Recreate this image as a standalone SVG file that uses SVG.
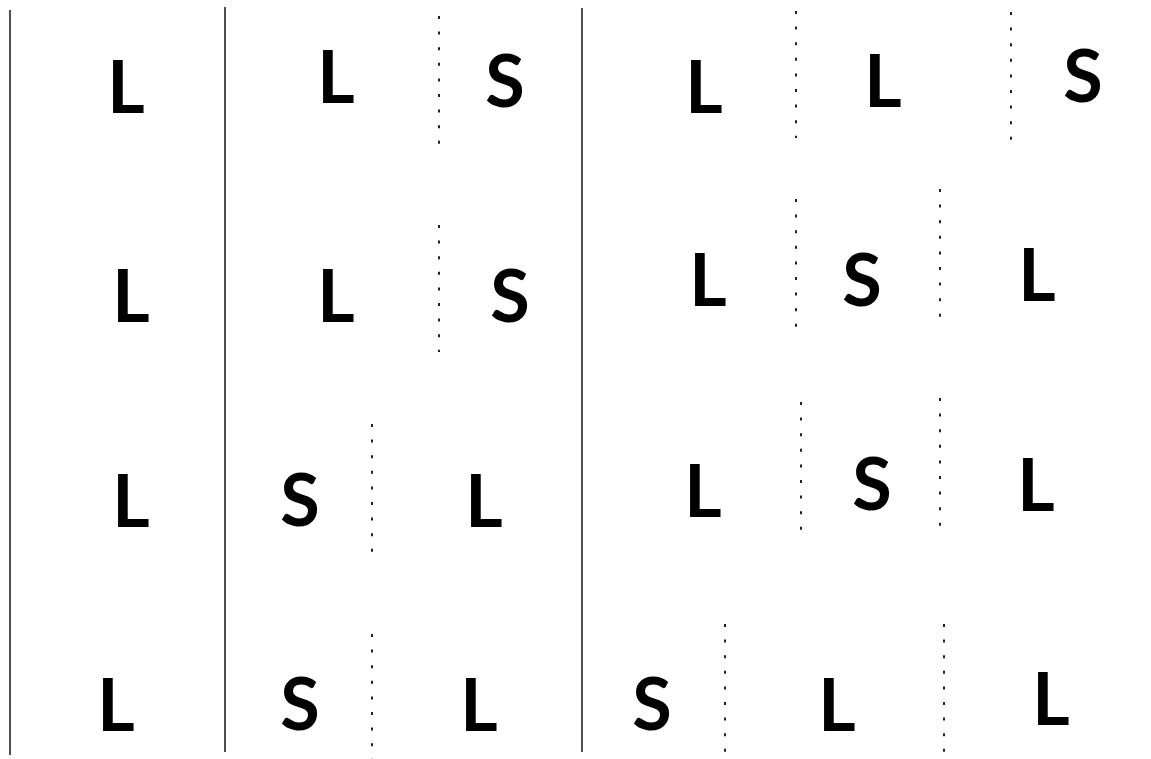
<svg xmlns="http://www.w3.org/2000/svg" width="1151" height="759" viewBox="0 0 1151 759">
<style>
.bg{fill:#ffffff}
.solid{stroke:#222222;stroke-width:1.6;fill:none}
.dot{stroke:#222222;stroke-width:2;stroke-dasharray:3 12.6;fill:none}
.lt{font-family:Lato,"Liberation Sans",sans-serif;font-weight:bold;font-size:72px;fill:#000000;text-anchor:middle}
</style>
<rect class="bg" x="0" y="0" width="1151" height="759"/>
<g id="connectors">
<line class="solid" x1="10" y1="10" x2="10" y2="755"/>
<line class="solid" x1="225" y1="7" x2="225" y2="752"/>
<line class="solid" x1="582" y1="8" x2="582" y2="752"/>
<line class="dot" x1="439" y1="16" x2="439" y2="144"/>
<line class="dot" x1="439" y1="225" x2="439" y2="352"/>
<line class="dot" x1="372" y1="424" x2="372" y2="553"/>
<line class="dot" x1="372" y1="634" x2="372" y2="759"/>
<line class="dot" x1="796" y1="11" x2="796" y2="138"/>
<line class="dot" x1="1011" y1="12" x2="1011" y2="141"/>
<line class="dot" x1="796" y1="199" x2="796" y2="327"/>
<line class="dot" x1="940" y1="189" x2="940" y2="317"/>
<line class="dot" x1="801" y1="402" x2="801" y2="532"/>
<line class="dot" x1="940" y1="398" x2="940" y2="528"/>
<line class="dot" x1="725" y1="624" x2="725" y2="752"/>
<line class="dot" x1="944" y1="624" x2="944" y2="752"/>
</g>
<g id="n1"><text class="lt" x="126" y="113">L</text></g>
<g id="n2"><text class="lt" x="336" y="103">L</text></g>
<g id="n3"><text class="lt" x="505" y="107">S</text></g>
<g id="n4"><text class="lt" x="131" y="322">L</text></g>
<g id="n5"><text class="lt" x="336" y="322">L</text></g>
<g id="n6"><text class="lt" x="510" y="322">S</text></g>
<g id="n7"><text class="lt" x="704" y="113">L</text></g>
<g id="n8"><text class="lt" x="883" y="107">L</text></g>
<g id="n9"><text class="lt" x="1083" y="102">S</text></g>
<g id="n10"><text class="lt" x="708" y="306">L</text></g>
<g id="n11"><text class="lt" x="862" y="306">S</text></g>
<g id="n12"><text class="lt" x="1037" y="301">L</text></g>
<g id="n13"><text class="lt" x="131" y="527">L</text></g>
<g id="n14"><text class="lt" x="300" y="526">S</text></g>
<g id="n15"><text class="lt" x="484" y="527">L</text></g>
<g id="n16"><text class="lt" x="116" y="731">L</text></g>
<g id="n17"><text class="lt" x="300" y="730">S</text></g>
<g id="n18"><text class="lt" x="479" y="731">L</text></g>
<g id="n19"><text class="lt" x="703" y="517">L</text></g>
<g id="n20"><text class="lt" x="872" y="510">S</text></g>
<g id="n21"><text class="lt" x="1036" y="511">L</text></g>
<g id="n22"><text class="lt" x="652" y="730">S</text></g>
<g id="n23"><text class="lt" x="837" y="731">L</text></g>
<g id="n24"><text class="lt" x="1051" y="725">L</text></g>
</svg>
